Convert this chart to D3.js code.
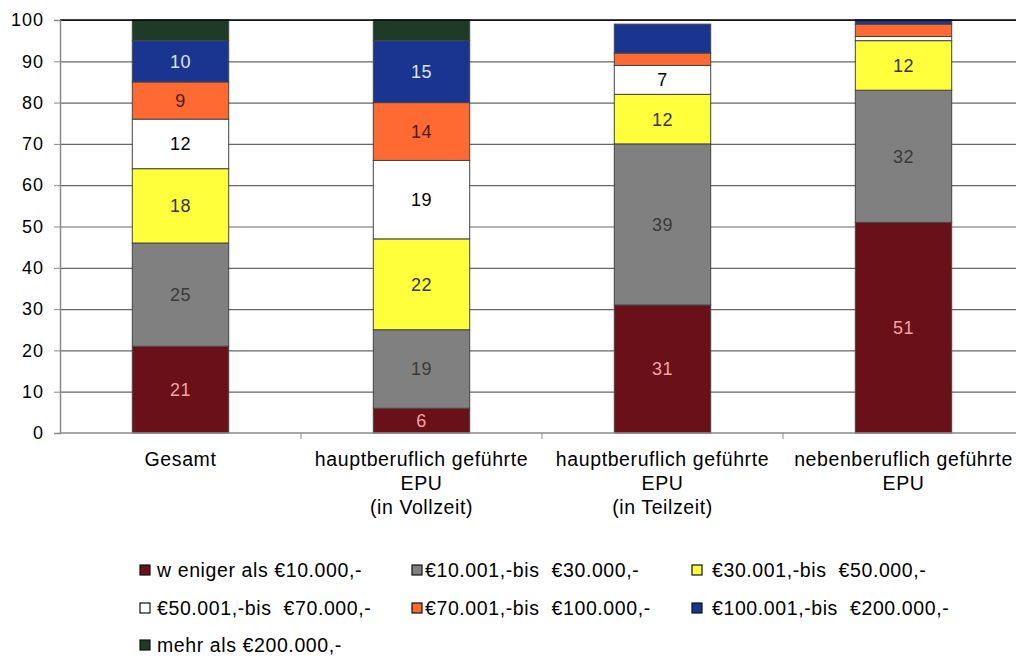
<!DOCTYPE html>
<html><head><meta charset="utf-8">
<script src="https://cdn.jsdelivr.net/npm/d3@7/dist/d3.min.js"></script>
<style>
html,body{margin:0;padding:0;background:#fff;overflow:hidden;}
svg{display:block;font-family:"Liberation Sans",Arial,sans-serif;}
text{white-space:pre;}
</style></head>
<body>
<svg id="chart" width="1016" height="658"></svg>
<script>
// ---- data ----
const categories = ["Gesamt", "Vollzeit", "Teilzeit", "Neben"];
const categoryLabels = [
  ["Gesamt"],
  ["hauptberuflich geführte", "EPU", "(in Vollzeit)"],
  ["hauptberuflich geführte", "EPU", "(in Teilzeit)"],
  ["nebenberuflich geführte", "EPU"]
];
const seriesNames = [
  "w eniger als €10.000,-",
  "€10.001,-bis  €30.000,-",
  "€30.001,-bis  €50.000,-",
  "€50.001,-bis  €70.000,-",
  "€70.001,-bis  €100.000,-",
  "€100.001,-bis  €200.000,-",
  "mehr als €200.000,-"
];
// values per series (bottom to top), one per category
const weniger10k   = [21, 6, 31, 51];
const bis30k       = [25, 19, 39, 32];
const bis50k       = [18, 22, 12, 12];
const bis70k       = [12, 19, 7, 1];
const bis100k      = [9, 14, 3, 3];
const bis200k      = [10, 15, 7, 1];
const mehr200k     = [5, 5, 0, 0];
const seriesValues = [weniger10k, bis30k, bis50k, bis70k, bis100k, bis200k, mehr200k];
// segments whose value label is not printed: [series index, category index]
const hiddenLabels = [[6,0],[6,1],[4,2],[5,2],[3,3],[4,3],[5,3]];
const yTicks = [0,10,20,30,40,50,60,70,80,90,100];

// ---- style ----
const colors = ["#6a1018", "#808080", "#ffff3c", "#ffffff", "#ff6a33", "#1a3590", "#1d3b26"];
const labelColors = ["#f2a3a3", "#3a3a3a", "#333333", "#000000", "#4a1a0a", "#dfe4f5", "#ffffff"];

const svg = d3.select("#chart");
const pLeft = 60, pTop = 20, pRight = 1024, pBottom = 433;

const x = d3.scaleBand().domain(categories).range([pLeft, pRight]).paddingInner(0.6).paddingOuter(0.3);
const xb = d3.scaleLinear().domain([0, categories.length]).range([pLeft, pRight]);
const y = d3.scaleLinear().domain([0, 100]).range([pBottom, pTop]);

// gridlines
svg.append("g").attr("transform", `translate(${pLeft},0)`)
  .call(d3.axisLeft(y).tickValues(yTicks.slice(1)).tickSize(-(pRight-pLeft)).tickFormat(""))
  .call(g => g.select(".domain").remove())
  .call(g => g.selectAll("line").attr("stroke", "#666").attr("stroke-width", 1.2));

// stack
const rows = categories.map((c, i) => {
  const o = {cat: c};
  seriesValues.forEach((s, k) => o["s"+k] = s[i]);
  return o;
});
const stack = d3.stack().keys(seriesValues.map((_, k) => "s"+k))(rows);

const layers = svg.append("g").selectAll("g").data(stack).join("g")
  .attr("fill", (d, k) => colors[k]);
layers.selectAll("rect").data(d => d.filter(p => p[1] - p[0] > 0)).join("rect")
  .attr("x", p => x(p.data.cat))
  .attr("width", x.bandwidth())
  .attr("y", p => y(p[1]))
  .attr("height", p => y(p[0]) - y(p[1]))
  .attr("stroke", "#444").attr("stroke-width", 1);

// value labels
stack.forEach((layer, k) => {
  layer.forEach((p, i) => {
    const v = seriesValues[k][i];
    if (v <= 0) return;
    if (hiddenLabels.some(h => h[0] === k && h[1] === i)) return;
    svg.append("text")
      .attr("x", x(categories[i]) + x.bandwidth()/2)
      .attr("y", y((p[0]+p[1])/2) + 6.5)
      .attr("text-anchor", "middle")
      .attr("font-size", 18)
      .attr("letter-spacing", "0.5px")
      .attr("fill", labelColors[k])
      .text(v);
  });
});

// top border
svg.append("line").attr("x1", pLeft).attr("x2", pRight).attr("y1", pTop).attr("y2", pTop)
  .attr("stroke", "#000").attr("stroke-width", 1.5);

// y axis
const ya = svg.append("g").attr("transform", `translate(${pLeft},0)`)
  .call(d3.axisLeft(y).tickValues(yTicks).tickSize(6).tickPadding(10));
ya.select(".domain").attr("stroke", "#8a8a8a").attr("stroke-width", 1.5);
ya.selectAll("line").attr("stroke", "#8a8a8a");
ya.selectAll("text").attr("font-size", 18).attr("fill", "#000")
  .attr("font-family", "Liberation Sans, Arial, sans-serif").attr("letter-spacing", "1px");

// x axis
svg.append("line").attr("x1", pLeft).attr("x2", pRight).attr("y1", pBottom).attr("y2", pBottom)
  .attr("stroke", "#8a8a8a").attr("stroke-width", 1.5);
svg.append("g").selectAll("line").data(d3.range(1, categories.length)).join("line")
  .attr("x1", d => xb(d)).attr("x2", d => xb(d))
  .attr("y1", pBottom).attr("y2", pBottom + 6)
  .attr("stroke", "#8a8a8a");

// category labels
categoryLabels.forEach((lines, i) => {
  const t = svg.append("text")
    .attr("x", x(categories[i]) + x.bandwidth()/2)
    .attr("y", 466)
    .attr("text-anchor", "middle")
    .attr("font-size", 19.5)
    .attr("letter-spacing", "0.6px")
    .attr("fill", "#000");
  lines.forEach((l, j) => t.append("tspan")
    .attr("x", x(categories[i]) + x.bandwidth()/2)
    .attr("dy", j === 0 ? 0 : 24).text(l));
});

// legend
const legCols = [140, 412, 692];
const legTextX = [157, 425, 712];
const legRows = [577, 615, 652];
seriesNames.forEach((name, k) => {
  const c = k % 3, r = Math.floor(k / 3);
  svg.append("rect").attr("x", legCols[c]).attr("y", legRows[r] - 12).attr("width", 10).attr("height", 10)
    .attr("fill", colors[k]).attr("stroke", "#111").attr("stroke-width", 1.2);
  svg.append("text").attr("x", legTextX[c]).attr("y", legRows[r])
    .attr("font-size", 19.5).attr("letter-spacing", "0.6px").attr("fill", "#000").text(name);
});
</script>
</body></html>
